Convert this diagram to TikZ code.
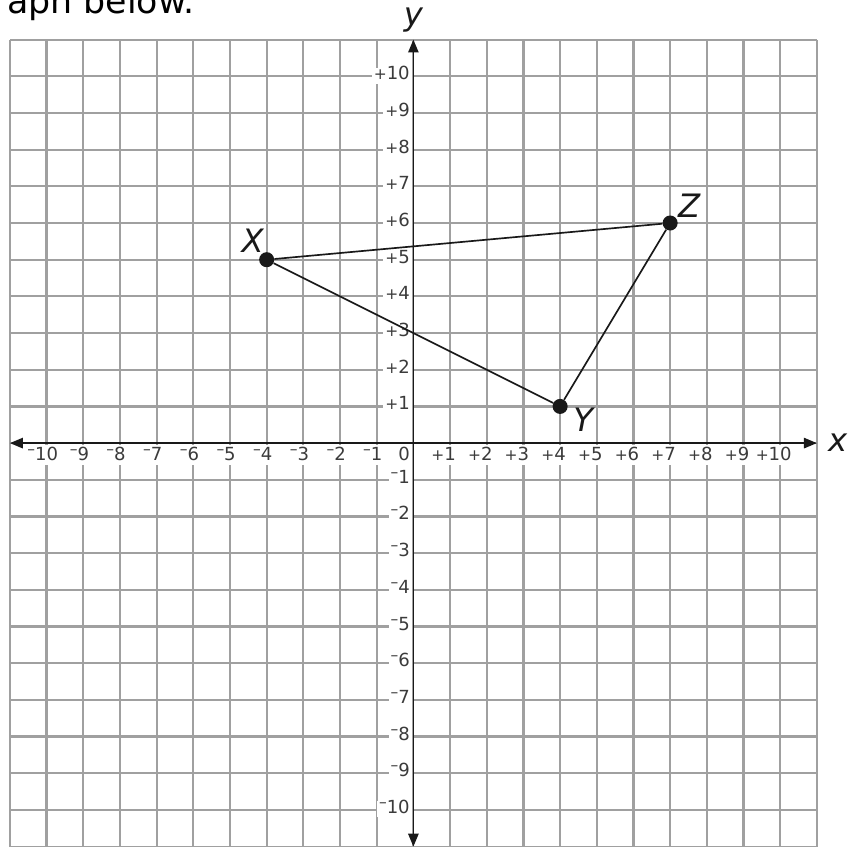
\documentclass[tikz,border=0pt]{standalone}
\usepackage{fontspec}
\setmainfont{DejaVu Sans}
\usepackage{tikz}
\usetikzlibrary{arrows.meta, positioning}
\definecolor{axisdark}{RGB}{25,25,25}
\definecolor{gridgray}{RGB}{160,160,160}
\newcommand{\tickplus}{{\fontsize{12}{12}\selectfont +}}
\newcommand{\tickminus}{\raisebox{4.5pt}{\fontsize{12}{12}\selectfont –}}
\tikzset{
  gridline/.style={line width=1.7pt, color=gridgray},
  axisline/.style={{Triangle[length=10pt,width=8pt]}-{Triangle[length=10pt,width=8pt]},
    line width=1.3pt, color=axisdark},
  xtick/.style={anchor=north, fill=white, inner sep=1.5pt,
    text height=1em, text depth=0.25em, font=\fontsize{14}{14}\selectfont, text=axisdark!85},
  ytick/.style={anchor=mid east, fill=white, inner sep=1.5pt,
    text height=0.8em, text depth=0.15em, font=\fontsize{14}{14}\selectfont, text=axisdark!85},
  dotnode/.style={circle, fill=axisdark, minimum size=0.41cm, inner sep=0pt},
  ptlabel/.style={font=\fontsize{25}{25}\selectfont\itshape, text=axisdark, inner sep=0pt},
  triline/.style={line width=1.3pt, color=axisdark}
}
\begin{document}
\begin{tikzpicture}
  \clip (-11.27,-10.99) rectangle (11.93,12.08);
  % Heading, cut off at the top
  \node[anchor=base west, inner sep=0pt, font=\fontsize{27}{27}\selectfont] (heading) at (-11.08,11.72) {aph below.};
  % Grid
  \draw[gridline] (-11,-11) grid (11,11);
  % Tick labels
  \foreach \i in {1,...,10} {
    \node[xtick] (xp\i) at (\i,-0.05) {\llap{\tickplus}\i};
    \node[xtick] (xm\i) at (-\i,-0.05) {\llap{\tickminus}\i};
    \node[ytick] (yp\i) at (-0.04,\i) {\tickplus\i};
    \node[ytick] (ym\i) at (-0.04,-\i) {\tickminus\i};
  }
  \node[xtick, anchor=north east] (zero) at (-0.04,-0.05) {0};
  % Axes
  \coordinate (xl) at (-11,0);
  \coordinate (xr) at (11,0);
  \coordinate (yb) at (0,-11);
  \coordinate (yt) at (0,11);
  \draw[axisline] (xl) -- (xr);
  \draw[axisline] (yb) -- (yt);
  \node[ptlabel, right=0.3cm of xr] (xname) {x};
  \node[ptlabel, above=0.2cm of yt] (yname) {y};
  % Triangle XYZ
  \node[dotnode] (X) at (-4,5) {};
  \node[dotnode] (Y) at (4,1) {};
  \node[dotnode] (Z) at (7,6) {};
  \draw[triline] (X) -- (Z) -- (Y) -- (X);
  \node[ptlabel] (labX) at (-4.38,5.52) {X};
  \node[ptlabel] (labY) at (4.63,0.65) {Y};
  \node[ptlabel] (labZ) at (7.52,6.46) {Z};
\end{tikzpicture}
\end{document}
